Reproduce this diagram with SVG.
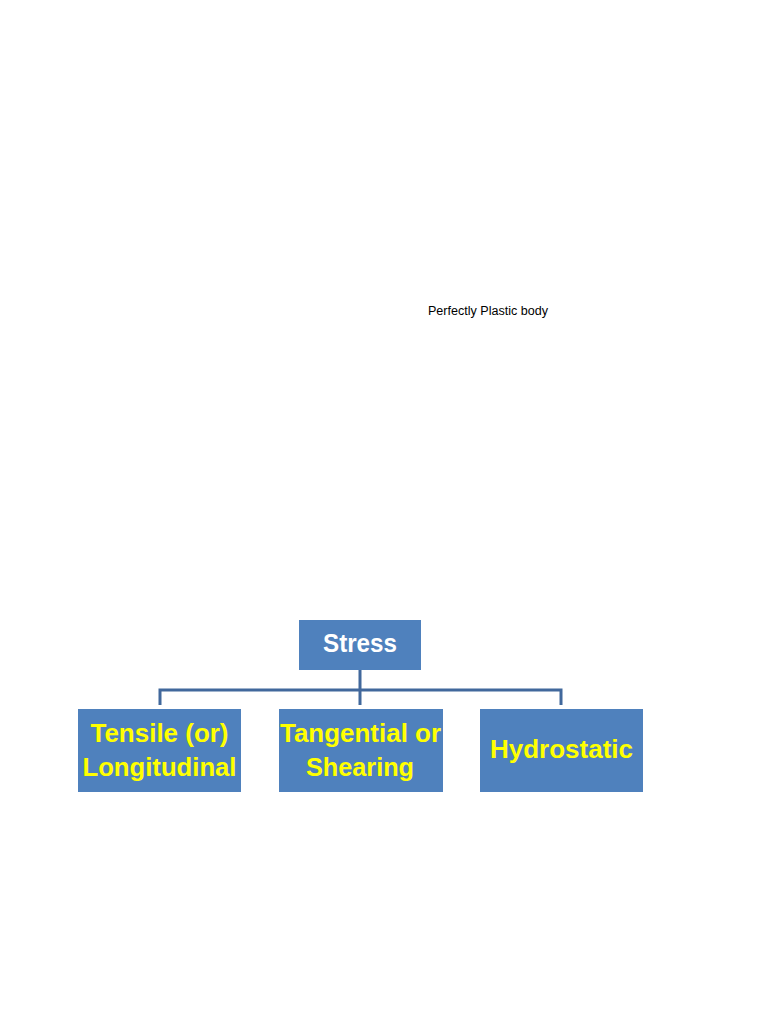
<svg xmlns="http://www.w3.org/2000/svg" width="768" height="1024" viewBox="0 0 768 1024">
<style>
.box{fill:#4f81bd;}
.lbl{font-family:"Liberation Sans",Arial,sans-serif;font-weight:bold;font-size:26px;fill:#ffff00;text-anchor:middle;}
.top{fill:#ffffff;}
.conn{stroke:#41689c;stroke-width:3;fill:none;}
.note{font-family:"Liberation Sans",Arial,sans-serif;font-size:12px;fill:#000000;}
</style>
<rect width="768" height="1024" fill="#ffffff"/>
<text class="note" x="428" y="315" textLength="120" lengthAdjust="spacingAndGlyphs">Perfectly Plastic body</text>
<g id="connectors">
<path class="conn" d="M360,670 V705 M160,705 V690 H561 V705"/>
</g>
<g id="stress">
<rect class="box" x="299" y="620" width="122" height="50"/>
<text class="lbl top" x="360" y="652" textLength="74" lengthAdjust="spacingAndGlyphs">Stress</text>
</g>
<g id="tensile">
<rect class="box" x="78" y="709" width="163" height="83"/>
<text class="lbl" x="159.5" y="742" textLength="138" lengthAdjust="spacingAndGlyphs">Tensile (or)</text>
<text class="lbl" x="159.5" y="776" textLength="154" lengthAdjust="spacingAndGlyphs">Longitudinal</text>
</g>
<g id="tangential">
<rect class="box" x="279" y="709" width="164" height="83"/>
<text class="lbl" x="360.5" y="742" textLength="161" lengthAdjust="spacingAndGlyphs">Tangential or</text>
<text class="lbl" x="360" y="776" textLength="108" lengthAdjust="spacingAndGlyphs">Shearing</text>
</g>
<g id="hydrostatic">
<rect class="box" x="480" y="709" width="163" height="83"/>
<text class="lbl" x="561.5" y="758" textLength="143" lengthAdjust="spacingAndGlyphs">Hydrostatic</text>
</g>
</svg>
